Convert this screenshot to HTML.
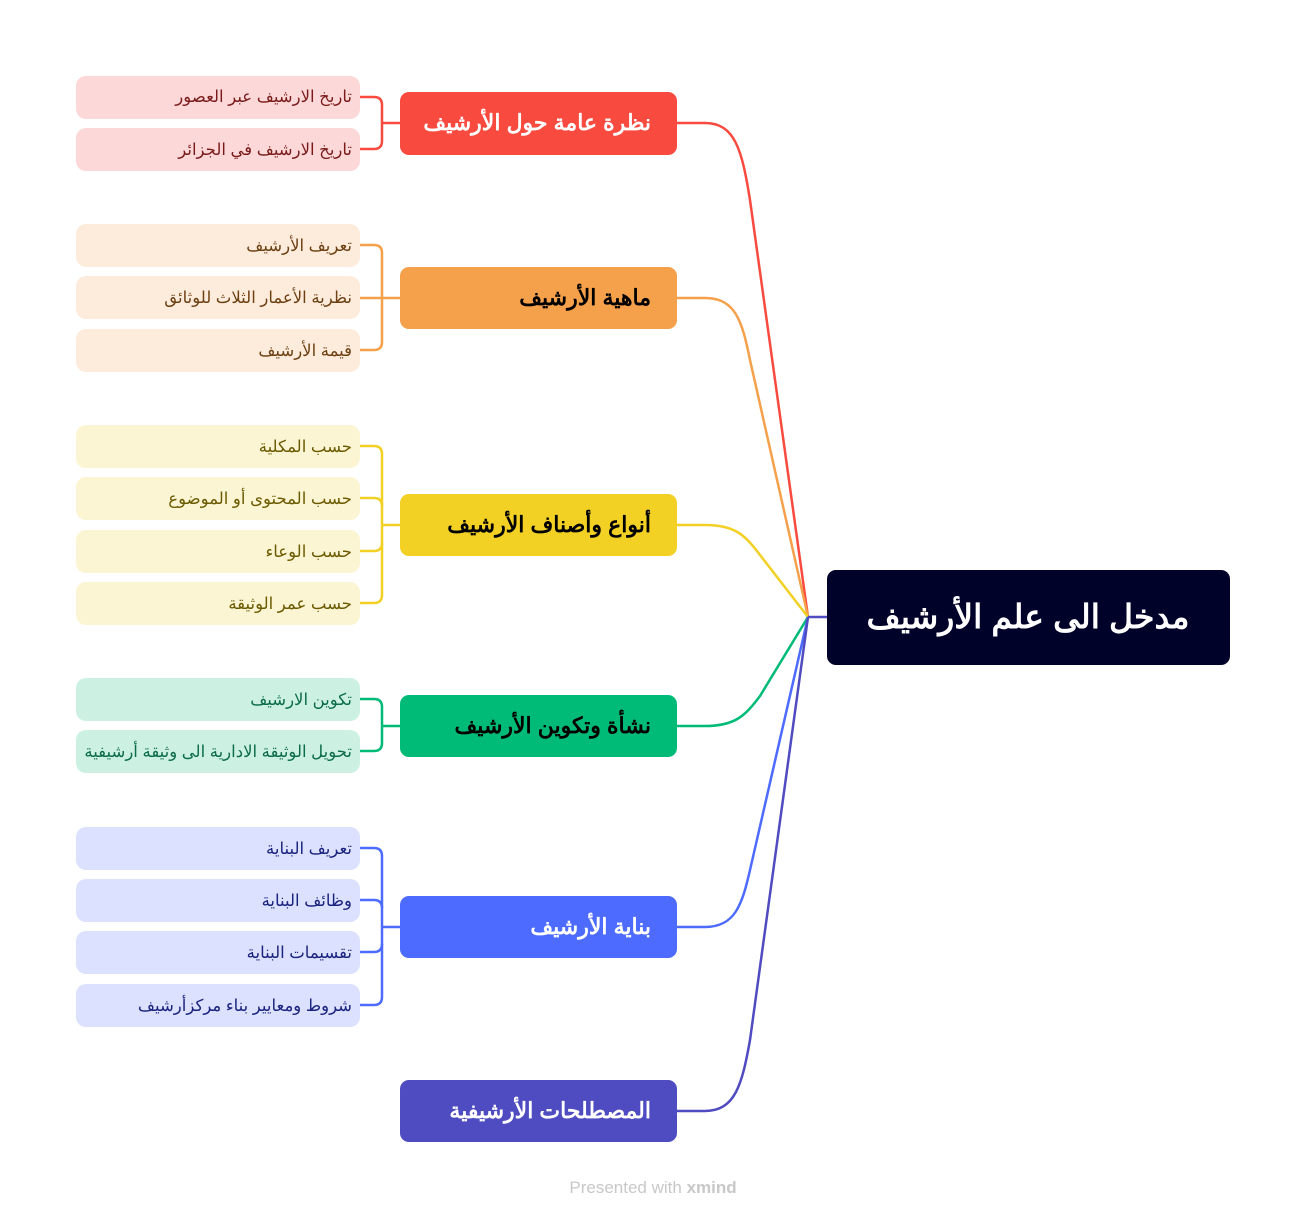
<!DOCTYPE html>
<html><head><meta charset="utf-8"><style>
html,body{margin:0;padding:0;background:#fff;}
svg{display:block;}
text{font-family:"Liberation Sans","Noto Sans CJK SC",sans-serif;}
</style></head><body>
<svg width="1306" height="1219" viewBox="0 0 1306 1219" xmlns="http://www.w3.org/2000/svg">
<g fill="none" stroke-width="2.5">
<path d="M677,123 H705 C735,123 742,150 750,200 L808,617" stroke="#F84A3E"/>
<path d="M677,298 H705 C735,298 742,320 750,360 L808,617" stroke="#F5A04A"/>
<path d="M677,525 H705 C735,525 745,535 760,555 L808,617" stroke="#F2D024"/>
<path d="M677,726 H705 C735,726 745,716 760,696 L808,617" stroke="#00BB77"/>
<path d="M677,927 H705 C735,927 742,905 750,870 L808,617" stroke="#4D6BFE"/>
<path d="M677,1111 H705 C735,1111 742,1085 750,1040 L808,617" stroke="#4F4BC0"/>
<path d="M808,617 H827" stroke="#4F4BC0"/>
<g stroke="#F84A3E"><path d="M400,123 H382"/><path d="M360,97 H374 Q382,97 382,105 V141 Q382,149 374,149 H360"/></g>
<g stroke="#F5A04A"><path d="M400,298 H360"/><path d="M360,245 H374 Q382,245 382,253 V342 Q382,350 374,350 H360"/></g>
<g stroke="#F2D024"><path d="M400,525 H382"/><path d="M360,446 H374 Q382,446 382,454 V595 Q382,603 374,603 H360"/><path d="M360,498 H374 Q382,498 382,506"/><path d="M360,551 H374 Q382,551 382,543"/></g>
<g stroke="#00BB77"><path d="M400,726 H382"/><path d="M360,699 H374 Q382,699 382,707 V743 Q382,751 374,751 H360"/></g>
<g stroke="#4D6BFE"><path d="M400,927 H382"/><path d="M360,848 H374 Q382,848 382,856 V997 Q382,1005 374,1005 H360"/><path d="M360,900 H374 Q382,900 382,908"/><path d="M360,952 H374 Q382,952 382,944"/></g>
</g>
<rect x="827" y="570" width="403" height="95" rx="9" fill="#000229"/>
<text x="1028" y="628" text-anchor="middle" font-size="33" font-weight="bold" fill="#fff">مدخل الى علم الأرشيف</text>
<rect x="400" y="92" width="277" height="63" rx="9" fill="#F84A3E"/>
<text x="651" y="130" text-anchor="end" font-size="22" font-weight="bold" fill="#fff">نظرة عامة حول الأرشيف</text>
<rect x="400" y="267" width="277" height="62" rx="9" fill="#F5A04A"/>
<text x="651" y="305" text-anchor="end" font-size="22" font-weight="bold" fill="#000">ماهية الأرشيف</text>
<rect x="400" y="494" width="277" height="62" rx="9" fill="#F2D024"/>
<text x="651" y="532" text-anchor="end" font-size="22" font-weight="bold" fill="#000">أنواع وأصناف الأرشيف</text>
<rect x="400" y="695" width="277" height="62" rx="9" fill="#00BB77"/>
<text x="651" y="733" text-anchor="end" font-size="22" font-weight="bold" fill="#000">نشأة وتكوين الأرشيف</text>
<rect x="400" y="896" width="277" height="62" rx="9" fill="#4D6BFE"/>
<text x="651" y="934" text-anchor="end" font-size="22" font-weight="bold" fill="#fff">بناية الأرشيف</text>
<rect x="400" y="1080" width="277" height="62" rx="9" fill="#4F4BC0"/>
<text x="651" y="1118" text-anchor="end" font-size="22" font-weight="bold" fill="#fff">المصطلحات الأرشيفية</text>
<g font-size="16.5">
<g fill="#FDD8D8"><rect x="76" y="76" width="284" height="43" rx="10"/><rect x="76" y="128" width="284" height="43" rx="10"/></g>
<g fill="#7A1B1B" text-anchor="end"><text x="352" y="102">تاريخ الارشيف عبر العصور</text><text x="352" y="155">تاريخ الارشيف في الجزائر</text></g>
<g fill="#FDEBDC"><rect x="76" y="224" width="284" height="43" rx="10"/><rect x="76" y="276" width="284" height="43" rx="10"/><rect x="76" y="329" width="284" height="43" rx="10"/></g>
<g fill="#6B3F10" text-anchor="end"><text x="352" y="251">تعريف الأرشيف</text><text x="352" y="303">نظرية الأعمار الثلاث للوثائق</text><text x="352" y="356">قيمة الأرشيف</text></g>
<g fill="#FCF5D3"><rect x="76" y="425" width="284" height="43" rx="10"/><rect x="76" y="477" width="284" height="43" rx="10"/><rect x="76" y="530" width="284" height="43" rx="10"/><rect x="76" y="582" width="284" height="43" rx="10"/></g>
<g fill="#6B5A00" text-anchor="end"><text x="352" y="452">حسب المكلية</text><text x="352" y="504">حسب المحتوى أو الموضوع</text><text x="352" y="557">حسب الوعاء</text><text x="352" y="609">حسب عمر الوثيقة</text></g>
<g fill="#CCF1E3"><rect x="76" y="678" width="284" height="43" rx="10"/><rect x="76" y="730" width="284" height="43" rx="10"/></g>
<g fill="#0B6B4A" text-anchor="end"><text x="352" y="705">تكوين الارشيف</text><text x="352" y="757">تحويل الوثيقة الادارية الى وثيقة أرشيفية</text></g>
<g fill="#DBE1FE"><rect x="76" y="827" width="284" height="43" rx="10"/><rect x="76" y="879" width="284" height="43" rx="10"/><rect x="76" y="931" width="284" height="43" rx="10"/><rect x="76" y="984" width="284" height="43" rx="10"/></g>
<g fill="#1A237E" text-anchor="end"><text x="352" y="854">تعريف البناية</text><text x="352" y="906">وظائف البناية</text><text x="352" y="958">تقسيمات البناية</text><text x="352" y="1011">شروط ومعايير  بناء مركزأرشيف</text></g>
</g>
<text x="653" y="1193" text-anchor="middle" font-size="17" fill="#c8c8c8">Presented with <tspan font-weight="bold">xmind</tspan></text>
</svg>
</body></html>
